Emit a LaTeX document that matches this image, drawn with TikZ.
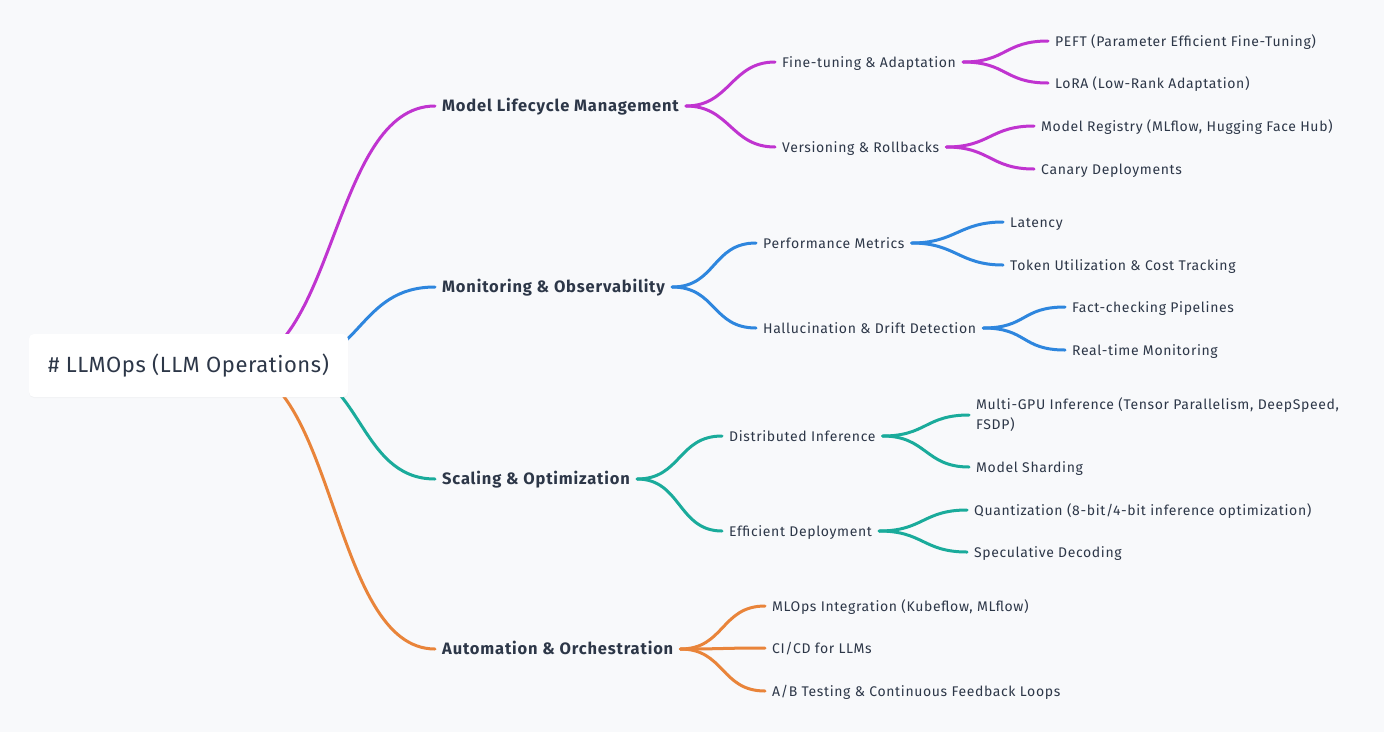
\documentclass[tikz,border=0pt]{standalone}
\usepackage{fontspec}
\usepackage{xcolor}
\usepackage{tikz}
\usetikzlibrary{shadows}
\setmainfont{Fira Sans}[LetterSpace=4.5]
\newfontfamily\rootfont{Fira Sans}[LetterSpace=2.5]
\newfontfamily\topicfont{Fira Sans}[LetterSpace=5]
\definecolor{bgcol}{RGB}{248,249,251}
\definecolor{ink}{RGB}{45,55,72}
\definecolor{lifepurple}{RGB}{192,52,208}
\definecolor{monblue}{RGB}{46,134,222}
\definecolor{scaleteal}{RGB}{26,171,155}
\definecolor{autoorange}{RGB}{233,132,58}

\begin{document}
\begin{tikzpicture}[x=1pt, y=-1pt,
  link/.style={line width=3pt, line cap=round},
  topic/.style={anchor=west, inner xsep=7pt, inner ysep=0pt, text=ink, font=\topicfont\fontsize{16.5}{20}\selectfont\bfseries, text height=14pt, text depth=3pt},
  leaf/.style={anchor=west, inner xsep=7pt, inner ysep=0pt, text=ink, font=\fontsize{14}{20}\selectfont, text height=13pt, text depth=3pt}]
\fill[bgcol] (0,0) rectangle (1384,732);

% main topics
\node[topic] (lifecycle) at (435,106) {Model Lifecycle Management};
\node[topic] (monitor) at (435,287) {Monitoring \& Observability};
\node[topic] (scaling) at (435,479) {Scaling \& Optimization};
\node[topic] (autom) at (435,649) {Automation \& Orchestration};

% root links, hidden behind the box
\coordinate (rootout) at (232,366);
\coordinate (rootin) at (284,366);
\draw[link, lifepurple] (rootout) .. controls +(104,0) and +(-104,0) .. (lifecycle.west);
\draw[link, monblue] (rootin) .. controls +(78,0) and +(-78,0) .. (monitor.west);
\draw[link, scaleteal] (rootin) .. controls +(78,0) and +(-78,0) .. (scaling.west);
\draw[link, autoorange] (rootout) .. controls +(104,0) and +(-104,0) .. (autom.west);

\node[fill=white, rounded corners=5pt, minimum width=319pt, minimum height=63pt, text=ink, font=\rootfont\fontsize{22}{26}\selectfont, drop shadow={opacity=0.05, shadow xshift=0pt, shadow yshift=-1pt}] (root) at (188.5,365.5) {\# LLMOps (LLM Operations)};

% lifecycle
\node[leaf] (finetune) at (775,62) {Fine-tuning \& Adaptation};
\node[leaf] (versions) at (775,147) {Versioning \& Rollbacks};
\node[leaf] (peft) at (1048,41) {PEFT (Parameter Efficient Fine-Tuning)};
\node[leaf] (lora) at (1048,83) {LoRA (Low-Rank Adaptation)};
\node[leaf] (registry) at (1034,126) {Model Registry (MLflow, Hugging Face Hub)};
\node[leaf] (canary) at (1034,169) {Canary Deployments};
\draw[link, lifepurple] (lifecycle.east) .. controls +(44,0) and +(-44,0) .. (finetune.west);
\draw[link, lifepurple] (lifecycle.east) .. controls +(44,0) and +(-44,0) .. (versions.west);
\draw[link, lifepurple] (finetune.east) .. controls +(44,0) and +(-44,0) .. (peft.west);
\draw[link, lifepurple] (finetune.east) .. controls +(44,0) and +(-44,0) .. (lora.west);
\draw[link, lifepurple] (versions.east) .. controls +(44,0) and +(-44,0) .. (registry.west);
\draw[link, lifepurple] (versions.east) .. controls +(44,0) and +(-44,0) .. (canary.west);

% monitoring
\node[leaf] (perf) at (756,243) {Performance Metrics};
\node[leaf] (halluc) at (756,328) {Hallucination \& Drift Detection};
\node[leaf] (latency) at (1003,222) {Latency};
\node[leaf] (tokens) at (1003,265) {Token Utilization \& Cost Tracking};
\node[leaf] (factcheck) at (1065,307) {Fact-checking Pipelines};
\node[leaf] (realtime) at (1065,350) {Real-time Monitoring};
\draw[link, monblue] (monitor.east) .. controls +(44,0) and +(-44,0) .. (perf.west);
\draw[link, monblue] (monitor.east) .. controls +(44,0) and +(-44,0) .. (halluc.west);
\draw[link, monblue] (perf.east) .. controls +(44,0) and +(-44,0) .. (latency.west);
\draw[link, monblue] (perf.east) .. controls +(44,0) and +(-44,0) .. (tokens.west);
\draw[link, monblue] (halluc.east) .. controls +(44,0) and +(-44,0) .. (factcheck.west);
\draw[link, monblue] (halluc.east) .. controls +(44,0) and +(-44,0) .. (realtime.west);

% scaling
\node[leaf] (distinf) at (722,436) {Distributed Inference};
\node[leaf] (effdep) at (722,531) {Efficient Deployment};
\node[anchor=west, inner xsep=7pt, inner ysep=0pt, text=ink, font=\fontsize{14}{20}\selectfont, align=left] (multigpu) at (969,415) {Multi-GPU Inference (Tensor Parallelism, DeepSpeed,\\FSDP)};
\node[leaf] (sharding) at (969,467) {Model Sharding};
\node[leaf] (quant) at (967,510) {Quantization (8-bit/4-bit inference optimization)};
\node[leaf] (specdec) at (967,552) {Speculative Decoding};
\draw[link, scaleteal] (scaling.east) .. controls +(44,0) and +(-44,0) .. (distinf.west);
\draw[link, scaleteal] (scaling.east) .. controls +(44,0) and +(-44,0) .. (effdep.west);
\draw[link, scaleteal] (distinf.east) .. controls +(44,0) and +(-44,0) .. (multigpu.west);
\draw[link, scaleteal] (distinf.east) .. controls +(44,0) and +(-44,0) .. (sharding.west);
\draw[link, scaleteal] (effdep.east) .. controls +(44,0) and +(-44,0) .. (quant.west);
\draw[link, scaleteal] (effdep.east) .. controls +(44,0) and +(-44,0) .. (specdec.west);

% automation
\node[leaf] (mlops) at (765,606) {MLOps Integration (Kubeflow, MLflow)};
\node[leaf] (cicd) at (765,648) {CI/CD for LLMs};
\node[leaf] (abtest) at (765,691) {A/B Testing \& Continuous Feedback Loops};
\draw[link, autoorange] (autom.east) .. controls +(44,0) and +(-44,0) .. (mlops.west);
\draw[link, autoorange] (autom.east) .. controls +(44,0) and +(-44,0) .. (cicd.west);
\draw[link, autoorange] (autom.east) .. controls +(44,0) and +(-44,0) .. (abtest.west);
\end{tikzpicture}
\end{document}
